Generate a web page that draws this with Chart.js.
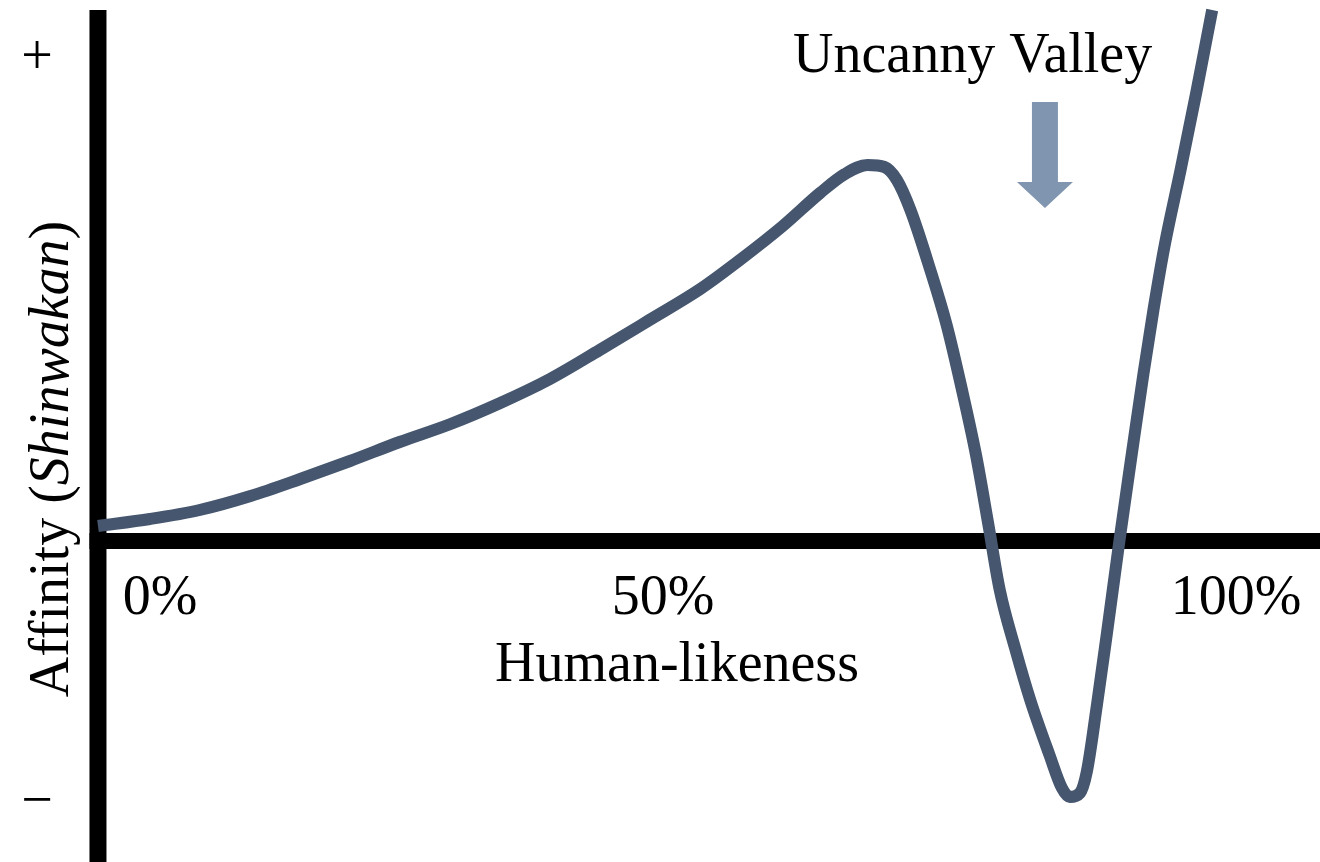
<!DOCTYPE html>
<html lang="en">
<head>
    <meta charset="UTF-8">
    <title>Uncanny Valley</title>
    <script src="https://cdn.jsdelivr.net/npm/chart.js"></script>
    <style>
        body { margin: 0; background: #ffffff; }
        #chart { display: block; }
    </style>
</head>
<body>
    <canvas id="chart" width="1320" height="862"></canvas>

    <script>
        // human-likeness (%) and affinity
        const likeness = [0, 4.6, 9.0, 13.5, 17.9, 22.3, 26.7, 31.2, 35.6, 40.0, 44.4, 48.8, 53.3, 56.8, 60.6, 63.9, 66.1, 68.1, 69.6, 70.7, 71.9, 73.6, 75.1, 76.5, 77.7, 78.8, 79.8, 81.2, 82.5, 84.2, 85.3, 86.0, 86.9, 87.5, 88.4, 89.3, 90.4, 91.6, 92.5, 93.4, 94.4, 95.8, 97.2, 98.6];
        const affinity = [3.0, 4.4, 6.2, 9.0, 12.4, 16.0, 19.8, 23.4, 27.6, 32.4, 38.2, 44.2, 50.4, 56.2, 63.0, 69.6, 73.4, 75.2, 74.8, 72.2, 66.2, 54.6, 43.2, 29.8, 17.2, 3.2, -9.8, -21.8, -31.8, -42.8, -49.4, -51.2, -50.4, -46.2, -32.8, -18.2, 0.2, 19.2, 33.2, 46.2, 59.2, 74.2, 89.8, 106.2];
        const xTickValues = [0, 50, 100];
        const xTickLabels = ["0%", "50%", "100%"];

        const serif = '"Liberation Serif", "Times New Roman", serif';
        const curveColor = "#45566e";
        const arrowColor = "#8096b0";

        // axes, labels and the arrow are drawn around the library's scales
        const diagramPlugin = {
            id: "diagram",
            beforeDatasetsDraw(chart) {
                const ctx = chart.ctx;
                const x = chart.scales.x, y = chart.scales.y;
                const x0 = x.getPixelForValue(0);
                const y0 = y.getPixelForValue(0);
                ctx.save();
                ctx.fillStyle = "#000";
                ctx.fillRect(x0 - 8.5, 10, 17, chart.height - 10);
                ctx.fillRect(x0 - 8.5, y0 - 8, chart.width - x0 + 8.5, 16);
                ctx.restore();
            },
            afterDraw(chart) {
                const ctx = chart.ctx;
                const x = chart.scales.x;
                ctx.save();
                ctx.fillStyle = "#000";
                ctx.font = "56px " + serif;
                ctx.textBaseline = "alphabetic";

                // x tick labels
                const tickOffsets = [62, 0, 8];
                xTickValues.forEach((v, i) => {
                    ctx.textAlign = "center";
                    ctx.fillText(xTickLabels[i], x.getPixelForValue(v) + tickOffsets[i], 614);
                });
                ctx.fillText("Human-likeness", 677, 681);

                // + and − marks
                ctx.fillText("+", 37, 74);
                ctx.fillText("\u2212", 37, 818);

                // y title, rotated
                ctx.translate(68, 459);
                ctx.rotate(-Math.PI / 2);
                const partA = "Affinity (";
                const partB = "Shinwakan";
                const partC = ")";
                ctx.font = "56px " + serif;
                const wA = ctx.measureText(partA).width;
                const wC = ctx.measureText(partC).width;
                ctx.font = "italic 56px " + serif;
                const wB = ctx.measureText(partB).width;
                let sx = -(wA + wB + wC) / 2;
                ctx.textAlign = "left";
                ctx.font = "56px " + serif;
                ctx.fillText(partA, sx, 0);
                ctx.font = "italic 56px " + serif;
                ctx.fillText(partB, sx + wA, 0);
                ctx.font = "56px " + serif;
                ctx.fillText(partC, sx + wA + wB, 0);
                ctx.restore();

                // annotation
                ctx.save();
                ctx.fillStyle = "#000";
                ctx.font = "56px " + serif;
                ctx.textAlign = "left";
                ctx.fillText("Uncanny Valley", 793, 72);
                const ax = x.getPixelForValue(83.8);
                ctx.fillStyle = arrowColor;
                ctx.beginPath();
                ctx.moveTo(ax - 13, 102);
                ctx.lineTo(ax + 13, 102);
                ctx.lineTo(ax + 13, 182);
                ctx.lineTo(ax + 28, 182);
                ctx.lineTo(ax, 208);
                ctx.lineTo(ax - 28, 182);
                ctx.lineTo(ax - 13, 182);
                ctx.closePath();
                ctx.fill();
                ctx.restore();
            }
        };

        const points = likeness.map((v, i) => ({ x: v, y: affinity[i] }));

        new Chart(document.getElementById("chart").getContext("2d"), {
            type: "line",
            data: {
                datasets: [{
                    data: points,
                    borderColor: curveColor,
                    borderWidth: 12,
                    borderCapStyle: "butt",
                    borderJoinStyle: "round",
                    cubicInterpolationMode: "monotone",
                    pointRadius: 0,
                    fill: false
                }]
            },
            options: {
                responsive: false,
                animation: false,
                devicePixelRatio: 1,
                layout: { padding: 0 },
                plugins: { legend: { display: false }, tooltip: { enabled: false } },
                scales: {
                    x: { type: "linear", min: -8.67, max: 108.14, display: false },
                    y: { type: "linear", min: -64.2, max: 108.2, display: false }
                }
            },
            plugins: [diagramPlugin]
        });
    </script>
</body>
</html>
